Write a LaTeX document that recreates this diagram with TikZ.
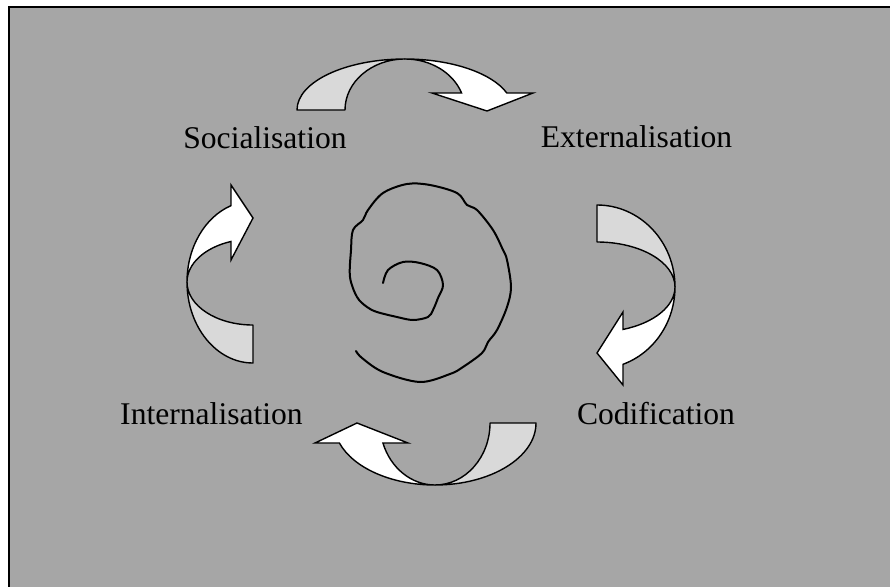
\documentclass[tikz,border=0pt]{standalone}
\usepackage{fontspec}
\setmainfont{Liberation Serif}
\definecolor{bggray}{RGB}{166,166,166}
\definecolor{bandgray}{RGB}{217,217,217}
\tikzset{
  bandback/.style={fill=bandgray,draw=black,line width=1.4pt,line join=round},
  bandfront/.style={fill=white,draw=black,line width=1.4pt,line join=miter},
  label/.style={font=\fontsize{31.6}{38}\selectfont,inner sep=0pt,anchor=base},
  spiralline/.style={draw=black,line width=2pt,line cap=round,line join=round}
}
% #1 outer rx, #2 inner rx, #3 ry, #4 head base height, #5 inner barb x, #6 outer barb x, #7 tip x, #8 tip y
\newcommand{\kwarrow}[8]{%
  \pgfmathsetmacro\kwtE{asin(#4/#3)}%
  \pgfmathsetmacro\kwin{#2*cos(\kwtE)}%
  \filldraw[bandback] (-#1,0) arc[start angle=180, end angle=90, x radius=#1, y radius=#3]
     arc[start angle=90, end angle=180, x radius=#2, y radius=#3] -- cycle;
  \filldraw[bandfront] (0,#3) arc[start angle=90, end angle=\kwtE, x radius=#1, y radius=#3]
     -- (#6,#4) -- (#7,#8) -- (#5,#4) -- (\kwin,#4)
     arc[start angle=\kwtE, end angle=90, x radius=#2, y radius=#3] -- cycle;
}
\begin{document}
\begin{tikzpicture}[x=1pt,y=1pt]
\useasboundingbox (0,0) rectangle (890,-586);
\clip (0,0) rectangle (890,-586);
\fill[bggray] (9,-7) rectangle (900,-600);
\draw[line width=2pt] (9,-600) -- (9,-7) -- (900,-7);

% top arrow
\begin{scope}[shift={(405,-110)}]
  \kwarrow{108}{60}{51}{17}{27}{128}{82}{-1}
\end{scope}
% right arrow
\begin{scope}[shift={(597,-287)},rotate=-90]
  \kwarrow{82}{45}{78}{26}{25}{98}{66}{0}
\end{scope}
% bottom arrow
\begin{scope}[shift={(435,-423)},rotate=180]
  \kwarrow{101}{55}{62}{20}{27}{120}{78}{0}
\end{scope}
% left arrow
\begin{scope}[shift={(253,-282)},rotate=90]
  \kwarrow{81}{43}{66}{22}{22}{97}{64}{0}
\end{scope}

\node[label] (soc) at (265,-148) {Socialisation};
\node[label] (ext) at (636.5,-147) {Externalisation};
\node[label] (int) at (211.5,-424) {Internalisation};
\node[label] (cod) at (656,-424) {Codification};

\draw[spiralline] plot[smooth,tension=0.55] coordinates {
 (383,-283) (388,-270) (403,-262) (420,-263) (437,-270) (443,-285) (438,-298)
 (433,-310) (428,-317) (413,-320) (397,-317) (377,-312) (367,-307) (357,-297)
 (350,-277) (351,-250) (353,-230) (363,-220) (368,-210) (383,-193) (407,-184)
 (430,-185) (457,-193) (467,-205) (477,-210) (493,-230) (503,-250) (507,-260)
 (511,-287) (507,-307) (497,-330) (488,-342) (482,-353) (463,-367) (450,-374)
 (420,-382) (383,-372) (362,-358) (356,-351)};
\end{tikzpicture}
\end{document}
